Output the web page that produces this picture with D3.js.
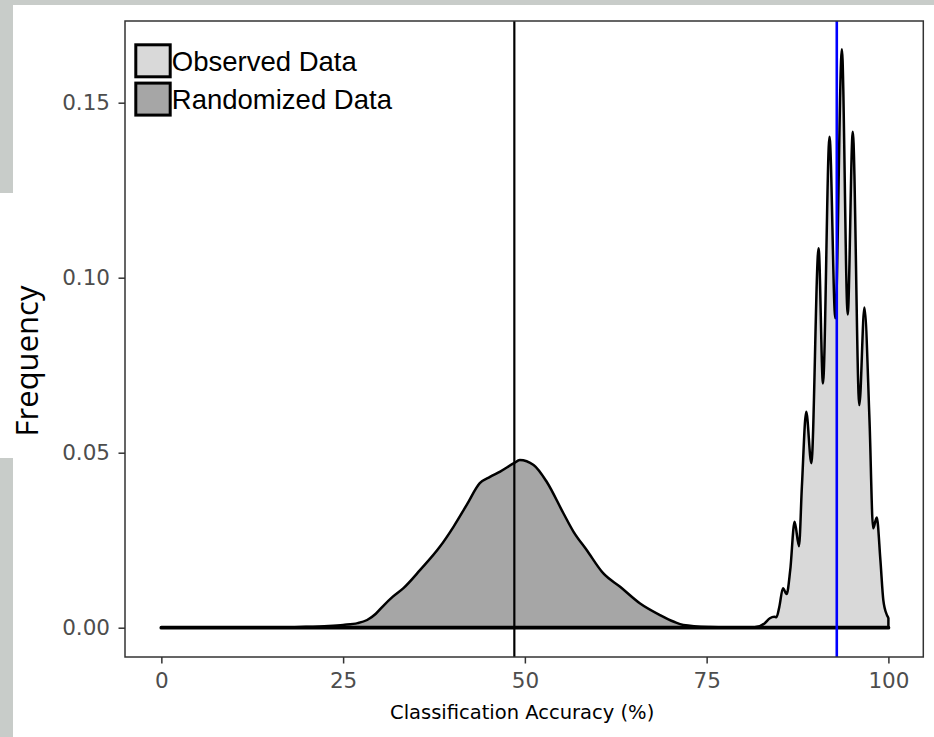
<!DOCTYPE html>
<html>
<head>
<meta charset="utf-8">
<style>
body { margin: 0; background: #c8ccc9; }
svg { display: block; }
</style>
</head>
<body>

<div id="diagram"></div>

<script src="https://cdn.jsdelivr.net/npm/d3@7/dist/d3.min.js"></script>
<script>

// density curves (x = accuracy %, y = frequency)
var observedX = [0, 80, 81.6, 83.0, 83.7, 84.3, 84.6, 85.0, 85.5, 86.0, 86.5, 87.1, 87.7, 88.1, 88.7, 89.4,
	90.4, 91.0, 91.9, 92.7, 93.6, 94.4, 95.1, 96.0, 96.7, 97.4, 97.9, 98.4, 98.9, 99.3, 99.8, 100, 100];
var observedY = [0, 0, 0.0001, 0.0013, 0.0027, 0.0031, 0.0030, 0.0060, 0.0113, 0.0096, 0.0165, 0.0303, 0.0233, 0.0403, 0.0617, 0.0470,
	0.1084, 0.0698, 0.1403, 0.0884, 0.1653, 0.0895, 0.1417, 0.0636, 0.0915, 0.0593, 0.0284, 0.0315, 0.0193, 0.0079, 0.0036, 0.0027, 0];

var randomX = [0, 15, 19.1, 23, 25, 27, 28.3, 29.5, 30.5, 31.8, 33.3, 35.6, 38.3, 40.2, 42.0, 43.8, 45.2, 46.6, 48.5, 49.3,
	51.2, 53.0, 55.3, 56.7, 58.5, 60.8, 63.1, 65.8, 68.6, 70.5, 71.8, 75.5, 80, 100];
var randomY = [0, 0, 0.0002, 0.0005, 0.0008, 0.0013, 0.0022, 0.0040, 0.0062, 0.0088, 0.0113, 0.0165, 0.0231, 0.0289, 0.0351, 0.0413, 0.0431, 0.0446, 0.0470, 0.0479,
	0.0465, 0.0417, 0.0327, 0.0274, 0.0222, 0.0155, 0.0117, 0.0070, 0.0036, 0.0017, 0.0008, 0.0002, 0, 0];

var meanValues = [48.55, 92.9];
var meanColours = ['#000000', '#0000ff'];

var legendLabels = ['Observed Data', 'Randomized Data'];
var legendFills = ['#d9d9d9', '#a6a6a6'];

var xTicks = [0, 25, 50, 75, 100];
var yTicks = [0, 0.05, 0.10, 0.15];

var canvas_size = { width: 934, height: 737 };
var panel = { left: 125, right: 923.3, top: 21, bottom: 657 };

var svg = d3.select('#diagram')
	.append('svg')
		.attr('width', canvas_size.width)
		.attr('height', canvas_size.height);

// textured page behind the figure, then the white figure area
svg.append('rect')
	.attr('width', canvas_size.width)
	.attr('height', canvas_size.height)
	.attr('fill', '#c8ccc9');
svg.append('rect')
	.attr('x', 13).attr('y', 5)
	.attr('width', canvas_size.width - 13)
	.attr('height', canvas_size.height - 5)
	.attr('fill', '#ffffff');
svg.append('rect')
	.attr('x', 0).attr('y', 193)
	.attr('width', 14).attr('height', 265)
	.attr('fill', '#ffffff');

var x = d3.scaleLinear().domain([-5, 104.8]).range([panel.left, panel.right]);
var y = d3.scaleLinear().domain([-0.00837, 0.17334]).range([panel.bottom, panel.top]);

function zip( xs, ys )
{
	return xs.map( function( d, i ) { return [d, ys[i]]; } );
}

var area = d3.area()
	.x( function(d) { return x(d[0]); } )
	.y0( y(0) )
	.y1( function(d) { return y(d[1]); } )
	.curve( d3.curveMonotoneX );

var plot = svg.append('g');

plot.append('path')
	.datum( zip(observedX, observedY) )
	.attr('d', area)
	.attr('fill', legendFills[0])
	.attr('stroke', '#000')
	.attr('stroke-width', 2.5)
	.attr('stroke-linejoin', 'round');

plot.append('path')
	.datum( zip(randomX, randomY) )
	.attr('d', area)
	.attr('fill', legendFills[1])
	.attr('stroke', '#000')
	.attr('stroke-width', 2.5)
	.attr('stroke-linejoin', 'round');

// both outlines run along zero, which reads as a heavier baseline
var xr = d3.extent( randomX.concat(observedX) );
plot.append('line')
	.attr('x1', x(xr[0])).attr('x2', x(xr[1]))
	.attr('y1', y(0)).attr('y2', y(0))
	.attr('stroke', '#000')
	.attr('stroke-width', 3.8)
	.attr('stroke-linecap', 'round');

plot.selectAll('.mean')
	.data( meanValues )
	.enter().append('line')
		.attr('class', 'mean')
		.attr('x1', function(d) { return x(d); })
		.attr('x2', function(d) { return x(d); })
		.attr('y1', panel.top).attr('y2', panel.bottom)
		.attr('stroke', function(d, i) { return meanColours[i]; })
		.attr('stroke-width', function(d, i) { return i == 1 ? 2.6 : 2.2; });

// panel border
svg.append('rect')
	.attr('x', panel.left).attr('y', panel.top)
	.attr('width', panel.right - panel.left)
	.attr('height', panel.bottom - panel.top)
	.attr('fill', 'none')
	.attr('stroke', '#333333')
	.attr('stroke-width', 1.5);

// axes
var xAxis = svg.append('g')
	.attr('transform', 'translate(0,' + panel.bottom + ')')
	.call( d3.axisBottom(x).tickValues(xTicks).tickSize(6.5).tickPadding(9.5).tickFormat(d3.format('d')) );

var yAxis = svg.append('g')
	.attr('transform', 'translate(' + panel.left + ',0)')
	.call( d3.axisLeft(y).tickValues(yTicks).tickSize(6.5).tickPadding(8.5).tickFormat(d3.format('.2f')) );

[xAxis, yAxis].forEach( function( a )
{
	a.select('.domain').remove();
	a.selectAll('line').attr('stroke', '#333333').attr('stroke-width', 1.5);
	a.selectAll('text')
		.attr('fill', '#4d4d4d')
		.style('font-family', '"DejaVu Sans", sans-serif')
		.style('font-size', '21.5px');
});

svg.append('text')
	.attr('x', (panel.left + panel.right) / 2 - 2)
	.attr('y', 719)
	.attr('text-anchor', 'middle')
	.style('font-family', '"DejaVu Sans", sans-serif')
	.style('font-size', '19.5px')
	.attr('fill', '#000')
	.text('Classification Accuracy (%)');

svg.append('text')
	.attr('transform', 'translate(38,361) rotate(-90)')
	.attr('text-anchor', 'middle')
	.style('font-family', '"Open Sans", sans-serif')
	.style('font-size', '31px')
	.attr('fill', '#000')
	.text('Frequency');

// legend
var legend = svg.selectAll('.legend')
	.data( legendLabels )
	.enter().append('g')
		.attr('class', 'legend')
		.attr('transform', function(d, i) { return 'translate(135.8,' + (44.8 + i * 38.3) + ')'; });

legend.append('rect')
	.attr('width', 34.4)
	.attr('height', 32)
	.attr('fill', function(d, i) { return legendFills[i]; })
	.attr('stroke', '#000')
	.attr('stroke-width', 3);

legend.append('text')
	.attr('x', 36)
	.attr('y', 26)
	.style('font-family', '"Liberation Sans", Arial, sans-serif')
	.style('font-size', '27.5px')
	.attr('fill', '#000')
	.text( function(d) { return d; } );

</script>

</body>
</html>
